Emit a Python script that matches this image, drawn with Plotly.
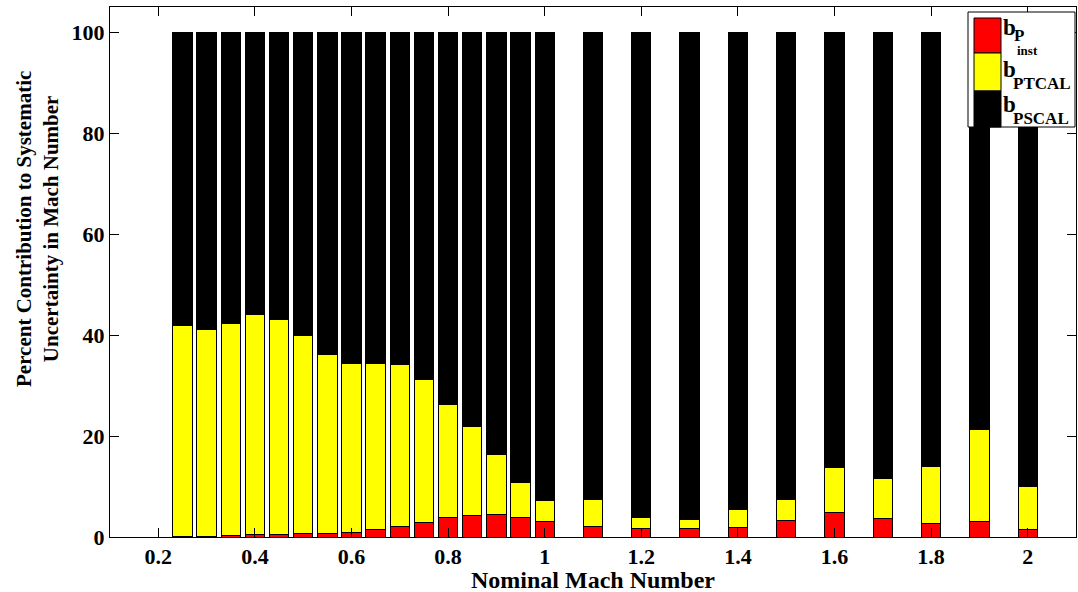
import plotly.graph_objects as go

# ---- data ----
mach = [0.25, 0.30, 0.35, 0.40, 0.45, 0.50, 0.55, 0.60, 0.65, 0.70, 0.75, 0.80,
        0.85, 0.90, 0.95, 1.00, 1.1, 1.2, 1.3, 1.4, 1.5, 1.6, 1.7, 1.8, 1.9, 2.0]
b_pinst = [0.1, 0.1, 0.3, 0.4, 0.5, 0.6, 0.7, 0.9, 1.4, 2.1, 2.9, 3.8,
           4.3, 4.4, 3.8, 3.1, 2.1, 1.7, 1.7, 1.9, 3.3, 4.9, 3.6, 2.6, 3.0, 1.4]
b_ptcal = [41.9, 41.0, 42.0, 43.6, 42.6, 39.3, 35.5, 33.4, 33.0, 32.1, 28.3, 22.5,
           17.5, 12.0, 7.0, 4.2, 5.3, 2.1, 1.7, 3.5, 4.2, 8.9, 8.0, 11.4, 18.2, 8.7]
b_pscal = [58.0, 58.9, 57.7, 56.0, 56.9, 60.1, 63.8, 65.7, 65.6, 65.8, 68.8, 73.7,
           78.2, 83.6, 89.2, 92.7, 92.6, 96.2, 96.6, 94.6, 92.5, 86.2, 88.4, 86.0, 78.8, 89.9]
x_ticks = [0.2, 0.4, 0.6, 0.8, 1.0, 1.2, 1.4, 1.6, 1.8, 2.0]
x_tick_text = ["0.2", "0.4", "0.6", "0.8", "1", "1.2", "1.4", "1.6", "1.8", "2"]
y_ticks = [0, 20, 40, 60, 80, 100]
series_names = ["b_P_inst", "b_PTCAL", "b_PSCAL"]
series_colors = ["#FF0000", "#FFFF00", "#000000"]

W, H = 1078, 592
ML, MR, MT, MB = 110, 2, 7, 55
PW, PH = W - ML - MR, H - MT - MB
FONT = "Liberation Serif, Times New Roman, serif"

def px_x(px):
    return (px - ML) / PW

def px_y(py):
    return (H - MB - py) / PH

fig = go.Figure()
for vals, name, col in zip([b_pinst, b_ptcal, b_pscal], series_names, series_colors):
    fig.add_trace(go.Bar(x=mach, y=vals, name=name, width=0.04,
                         marker=dict(color=col, line=dict(color="#000000", width=1)),
                         showlegend=False, hoverinfo="skip"))

# ---- legend drawn as shapes/annotations ----
shapes = [dict(type="rect", xref="paper", yref="paper",
               x0=px_x(968), x1=px_x(1075), y0=px_y(127), y1=px_y(12),
               fillcolor="white", line=dict(color="black", width=1), layer="above")]
sw_bounds = [(18, 53), (53, 91), (91, 127)]
for (t, b), col in zip(sw_bounds, series_colors):
    shapes.append(dict(type="rect", xref="paper", yref="paper",
                       x0=px_x(974), x1=px_x(1001), y0=px_y(b), y1=px_y(t),
                       fillcolor=col, line=dict(color="black", width=1), layer="above"))

annotations = []
def txt(text, x, y, size, xanchor="left"):
    annotations.append(dict(text=text, xref="paper", yref="paper", x=px_x(x), y=px_y(y),
                            xanchor=xanchor, yanchor="middle", showarrow=False,
                            font=dict(family=FONT, size=size, color="black", weight="bold")))

# entry labels
txt("b", 1001, 28, 23)
txt("P", 1012, 36, 17)
txt("inst", 1015, 51, 13)
txt("b", 1001, 70, 23)
txt("PTCAL", 1011, 84, 17)
txt("b", 1001, 105, 23)
txt("PSCAL", 1011, 119, 17)

# axis titles
txt("Nominal Mach Number", (ML + W - MR) / 2, 580, 24, xanchor="center")
annotations.append(dict(text="Percent Contribution to Systematic<br>Uncertainty in Mach Number",
                        xref="paper", yref="paper", x=px_x(37), y=px_y(229),
                        xanchor="center", yanchor="middle", textangle=-90, showarrow=False,
                        font=dict(family=FONT, size=21, color="black", weight="bold")))

fig.update_layout(
    width=W, height=H,
    margin=dict(l=ML, r=MR, t=MT, b=MB),
    barmode="stack",
    plot_bgcolor="white", paper_bgcolor="white",
    shapes=shapes, annotations=annotations,
    font=dict(family=FONT, color="black"),
)
fig.update_xaxes(range=[0.1, 2.1], tickvals=x_ticks, ticktext=x_tick_text,
                 ticks="inside", ticklen=9, tickcolor="black", tickwidth=1,
                 showline=True, linecolor="black", linewidth=1, mirror="ticks",
                 showgrid=False, zeroline=False,
                 tickfont=dict(family=FONT, size=22, color="black", weight="bold"))
fig.update_yaxes(range=[0, 105], tickvals=y_ticks,
                 ticks="inside", ticklen=9, tickcolor="black", tickwidth=1,
                 showline=True, linecolor="black", linewidth=1, mirror="ticks",
                 showgrid=False, zeroline=False,
                 tickfont=dict(family=FONT, size=22, color="black", weight="bold"))

fig.write_html("out.html", config={"displayModeBar": False},
               post_script="document.body.style.margin='0';document.body.style.overflow='hidden';")
